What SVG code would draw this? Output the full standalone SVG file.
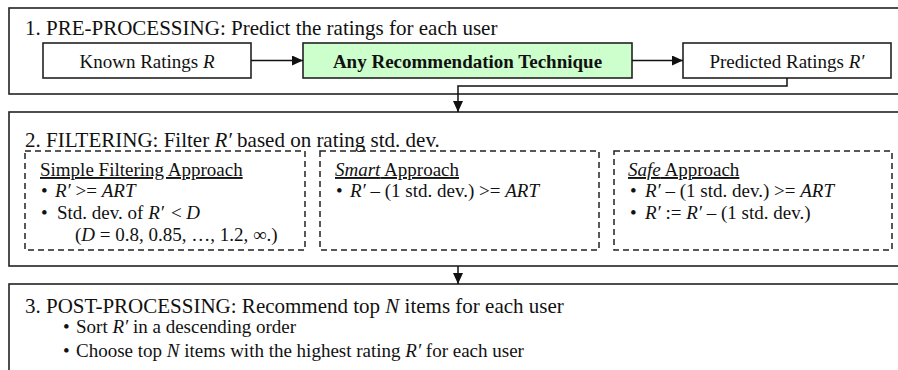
<svg xmlns="http://www.w3.org/2000/svg" width="898" height="370" viewBox="0 0 898 370">
<style>
.panel{fill:none;stroke:#222;stroke-width:1.6}
.box{fill:#fff;stroke:#222;stroke-width:1.6}
.green{fill:#ccffcc;stroke:#222;stroke-width:1.6}
.dash{fill:none;stroke:#222;stroke-width:1.5;stroke-dasharray:6 4}
.t{font-family:"Liberation Serif","Times New Roman",serif;fill:#111}
.title{font-size:21px}
.lbl{font-size:19px}
.it{font-style:italic}
.b{font-weight:bold}
.u{text-decoration:underline}
.conn{fill:none;stroke:#111;stroke-width:1.5}
</style>
<defs>
<marker id="arr" markerUnits="userSpaceOnUse" markerWidth="11" markerHeight="10" refX="11" refY="5" orient="auto">
<path d="M0,0 L11,5 L0,10 z" fill="#111"/>
</marker>
</defs>
<rect width="898" height="370" fill="#fff"/>

<g id="panel1">
<rect class="panel" x="9" y="8" width="895" height="86"/>
<text class="t title" x="25" y="35">1. PRE-PROCESSING: Predict the ratings for each user</text>
</g>
<g id="known">
<rect class="box" x="43" y="43" width="208" height="35"/>
<text class="t lbl" x="147" y="68" text-anchor="middle">Known Ratings <tspan class="it">R</tspan></text>
</g>
<g id="technique">
<rect class="green" x="303" y="43" width="329" height="35"/>
<text class="t lbl b" x="467.5" y="68" text-anchor="middle">Any Recommendation Technique</text>
</g>
<g id="predicted">
<rect class="box" x="683" y="43" width="208" height="35"/>
<text class="t lbl" x="787" y="68" text-anchor="middle">Predicted Ratings <tspan class="it">R′</tspan></text>
</g>

<g id="panel2">
<rect class="panel" x="9" y="112" width="895" height="154"/>
<text class="t title" x="25" y="147">2. FILTERING: Filter <tspan class="it">R′</tspan> based on rating std. dev.</text>
</g>
<g id="simple">
<rect class="dash" x="25" y="151" width="280" height="99"/>
<text class="t lbl u" x="40" y="176">Simple Filtering Approach</text>
<text class="t lbl" x="41" y="197">•</text>
<text class="t lbl" x="55" y="197"><tspan class="it">R′</tspan> &gt;= <tspan class="it">ART</tspan></text>
<text class="t lbl" x="41" y="219">•</text>
<text class="t lbl" x="57" y="219">Std. dev. of <tspan class="it">R′</tspan><tspan dx="7">&lt; </tspan><tspan class="it">D</tspan></text>
<text class="t lbl" x="75" y="241">(<tspan class="it">D</tspan> = 0.8, 0.85, …, 1.2, ∞.)</text>
</g>
<g id="smart">
<rect class="dash" x="320" y="151" width="279" height="99"/>
<text class="t lbl u" x="335" y="176"><tspan class="it">Smart</tspan> Approach</text>
<text class="t lbl" x="336" y="197">•</text>
<text class="t lbl" x="350" y="197"><tspan class="it">R′</tspan> – (1 std. dev.) &gt;= <tspan class="it">ART</tspan></text>
</g>
<g id="safe">
<rect class="dash" x="614" y="151" width="278" height="99"/>
<text class="t lbl u" x="628" y="176"><tspan class="it">Safe</tspan> Approach</text>
<text class="t lbl" x="630" y="197">•</text>
<text class="t lbl" x="645" y="197"><tspan class="it">R′</tspan> – (1 std. dev.) &gt;= <tspan class="it">ART</tspan></text>
<text class="t lbl" x="630" y="219">•</text>
<text class="t lbl" x="645" y="219"><tspan class="it">R′</tspan> := <tspan class="it">R′</tspan> – (1 std. dev.)</text>
</g>

<g id="panel3">
<rect class="panel" x="9" y="284" width="895" height="100"/>
<text class="t title" x="25" y="313">3. POST-PROCESSING: Recommend top <tspan class="it">N</tspan> items for each user</text>
<text class="t lbl" x="63" y="333">•</text>
<text class="t lbl" x="76" y="333">Sort <tspan class="it">R′</tspan> in a descending order</text>
<text class="t lbl" x="63" y="357">•</text>
<text class="t lbl" x="76" y="357">Choose top <tspan class="it">N</tspan> items with the highest rating <tspan class="it">R′</tspan> for each user</text>
</g>

<g id="connectors">
<line class="conn" x1="251" y1="60.5" x2="303" y2="60.5" marker-end="url(#arr)"/>
<line class="conn" x1="632" y1="60.5" x2="683" y2="60.5" marker-end="url(#arr)"/>
<polyline class="conn" points="787,78 787,86 458,86 458,112" marker-end="url(#arr)"/>
<line class="conn" x1="458" y1="266" x2="458" y2="284" marker-end="url(#arr)"/>
</g>
</svg>
